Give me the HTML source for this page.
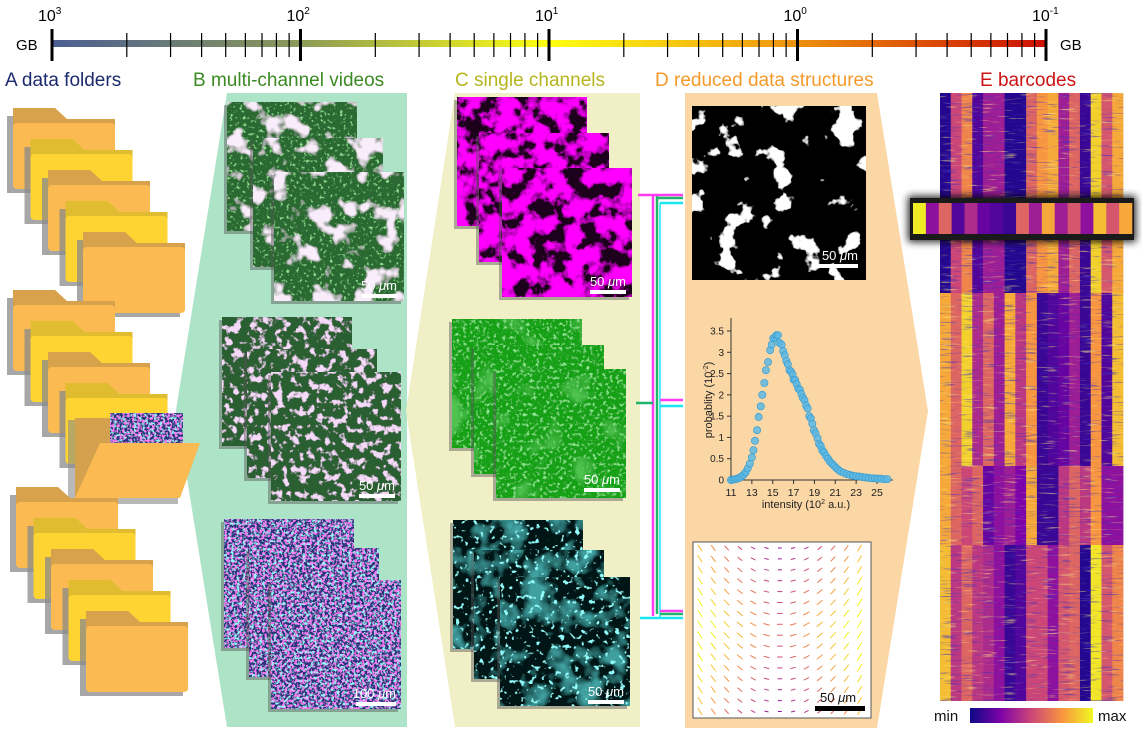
<!DOCTYPE html>
<html><head><meta charset="utf-8">
<style>
html,body{margin:0;padding:0;background:#fff;}
svg{display:block;font-family:"Liberation Sans",sans-serif;}
</style></head>
<body>
<svg id="fig" width="1142" height="734" viewBox="0 0 1142 734" xmlns="http://www.w3.org/2000/svg">
<defs id="defs">
<linearGradient id="gbScale" x1="0" x2="1" y1="0" y2="0">
<stop offset="0" stop-color="#4a5e94"/><stop offset="0.25" stop-color="#8c9a58"/><stop offset="0.5" stop-color="#ffff10"/><stop offset="0.72" stop-color="#f0a010"/><stop offset="1" stop-color="#cc1000"/>
</linearGradient>
<linearGradient id="plasmaGrad" x1="0" x2="1" y1="0" y2="0">
<stop offset="0" stop-color="#0d0887"/><stop offset="0.25" stop-color="#7e03a8"/><stop offset="0.5" stop-color="#cc4778"/><stop offset="0.75" stop-color="#f89540"/><stop offset="1" stop-color="#f0f921"/>
</linearGradient>
<filter id="barShadow" x="-10%" y="-60%" width="120%" height="220%"><feGaussianBlur stdDeviation="4"/></filter>
</defs>

<polygon points="227,93 407,93 407,727 227,727 176,410" fill="#ade3c6"/>
<polygon points="455,93 640,93 640,727 455,727 406,411" fill="#f0efc6"/>
<polygon points="685,93 877,93 928,411 877,728 685,728" fill="#fbd7a6"/>

<g id="scale"></g>
<g id="titles">
<text x="5" y="86" font-size="19" fill="#1c2a6e">A  data folders</text>
<text x="193" y="86" font-size="19" fill="#3b8a24">B  multi-channel videos</text>
<text x="455" y="86" font-size="19" fill="#b5b51e">C  single channels</text>
<text x="655" y="86" font-size="19" fill="#f59a2a">D  reduced data structures</text>
<text x="980" y="86" font-size="19" fill="#cc1414">E  barcodes</text>
</g>
<g id="folders"></g>
<g id="images"></g>
<g id="brackets"></g>
<g id="hist"></g>
<g id="vfield"></g>
<g id="heat"></g>
<g>
<text x="934" y="721" font-size="15" fill="#111">min</text>
<rect x="970" y="708" width="123" height="15" fill="url(#plasmaGrad)"/>
<text x="1098" y="721" font-size="15" fill="#111">max</text>
</g>
</svg>
<script>
// ---------- data ----------
const histX = [11.0,11.2,11.4,11.6,11.8,12.0,12.2,12.4,12.6,12.8,13.0,13.15,13.3,13.5,13.65,13.85,14.0,14.2,14.35,14.55,14.75,14.9,15.05,15.25,15.35,15.5,15.65,15.85,16.0,16.15,16.3,16.45,16.6,16.75,16.9,17.0,17.15,17.3,17.45,17.6,17.75,17.9,18.05,18.2,18.35,18.5,18.65,18.8,18.95,19.1,19.3,19.45,19.6,19.75,19.9,20.1,20.3,20.5,20.7,20.9,21.1,21.3,21.5,21.8,22.1,22.4,22.7,23.0,23.3,23.6,23.9,24.2,24.5,24.8,25.1,25.4,25.7,26.0];
const histY = [0.00,0.01,0.02,0.03,0.05,0.08,0.12,0.18,0.27,0.38,0.53,0.70,0.92,1.17,1.48,1.73,2.00,2.28,2.58,2.77,3.05,3.18,3.33,3.33,3.40,3.40,3.22,3.18,3.03,2.93,2.80,2.72,2.58,2.55,2.48,2.36,2.35,2.25,2.15,2.12,2.02,1.93,1.87,1.75,1.68,1.50,1.45,1.32,1.17,1.10,0.98,0.85,0.80,0.70,0.65,0.57,0.50,0.43,0.38,0.33,0.28,0.24,0.20,0.17,0.14,0.12,0.10,0.09,0.08,0.07,0.06,0.05,0.04,0.04,0.03,0.03,0.02,0.02];
const histYTicks = [0,0.5,1,1.5,2,2.5,3,3.5];
const histYTickLabels = ["0","0.5","1","1.5","2","2.5","3","3.5"];
const histXTicks = [11,13,15,17,19,21,23,25];

const barcodeBlock1 = [0.05,0.5,0.7,0.15,0.35,0.35,0.05,0.05,0.6,0.75,0.8,0.35,0.6,0.1,0.9,0.55,0.8];
const barcodeBlock2 = [0.8,0.6,0.9,0.4,0.6,0.35,0.8,0.45,0.75,0.1,0.15,0.2,0.35,0.1,0.75,0.15,0.85];
const barcodeBlock3 = [0.8,0.6,0.5,0.6,0.2,0.3,0.35,0.25,0.8,0.1,0.1,0.45,0.6,0.45,0.75,0.3,0.3];
const barcodeBlock4 = [0.85,0.45,0.6,0.45,0.4,0.3,0.1,0.15,0.5,0.5,0.3,0.55,0.6,0.05,0.95,0.55,0.7];
const barcodeHighlight = [0.97,0.3,0.6,0.15,0.4,0.2,0.15,0.1,0.6,0.35,0.8,0.35,0.55,0.3,0.85,0.55,0.8];

const scaleDecadeLabels = ["3","2","1","0","-1"];

// ---------- helpers ----------
const NS = "http://www.w3.org/2000/svg";
function mk(tag, attrs, parent){ const e=document.createElementNS(NS,tag); for(const k in attrs) e.setAttribute(k,attrs[k]); if(parent) parent.appendChild(e); return e; }
const plasmaStops=[[13,8,135],[126,3,168],[204,71,120],[248,149,64],[240,249,33]];
function plasma(t){ t=Math.max(0,Math.min(1,t)); const s=t*4; const i=Math.min(3,Math.floor(s)); const f=s-i; const a=plasmaStops[i], b=plasmaStops[i+1]; return `rgb(${Math.round(a[0]+(b[0]-a[0])*f)},${Math.round(a[1]+(b[1]-a[1])*f)},${Math.round(a[2]+(b[2]-a[2])*f)})`; }
const defs=document.getElementById('defs');

// ---------- top size scale ----------
const sc=document.getElementById('scale');
const x0=52, D=248.5;
let r=mk('rect',{x:x0,y:40,width:4*D,height:7,fill:'url(#gbScale)'},sc);
 
scaleDecadeLabels.forEach((lab,i)=>{
  const x=x0+i*D;
  const t=mk('line',{x1:x,x2:x,y1:29,y2:61,stroke:'#000','stroke-width':3},sc);
   
  const tx=mk('text',{x:x-14,y:21,'font-size':16,fill:'#000'},sc);
   
  tx.innerHTML='10<tspan font-size="10" dy="-7">'+lab+'</tspan>';
  if(i<4){ for(let k=2;k<=9;k++){ const xm=x+Math.log10(k)*D;
    const m=mk('line',{x1:xm,x2:xm,y1:33,y2:57,stroke:'#000','stroke-width':1.2},sc);
      } }
});
let g1=mk('text',{x:16,y:50,'font-size':15,fill:'#000'},sc); g1.textContent='GB';
 
let g2=mk('text',{x:1060,y:50,'font-size':15,fill:'#000'},sc); g2.textContent='GB';
 

// ---------- folders ----------
const fg=document.getElementById('folders');
function folder(x,y,col,dark){
  const g=mk('g',{},fg);
   
  mk('path',{d:`M${x-6} ${y-3} h47 l10 11 h46 v66 h-103 z`,fill:'#8a8a8a',opacity:0.75},g);
  mk('path',{d:`M${x} ${y-11} h42 l12 11 h48 v66 q0 3 -3 3 h-96 q-3 0 -3 -3 z`,fill:dark},g);
  mk('rect',{x:x,y:y+4,width:102,height:66,rx:4,fill:col},g);
}
const orange='#fbbb52', yellow='#fdd431', dOr='#d8a24c', dYe='#e0bc30';
[[13,119],[13,301],[16,498]].forEach((p,gi)=>{
  for(let i=0;i<5;i++){
    const x=p[0]+i*17.5, y=p[1]+i*31;
    const c=i%2?yellow:orange, d=i%2?dYe:dOr;
    if(gi===1&&i===4){
      const g=mk('g',{},fg);
       
      mk('rect',{x:68,y:420,width:110,height:84,fill:'#8a8a8a',opacity:0.6},g);
      mk('path',{d:'M75 418 h35 v80 h-35 z',fill:'#d4a24e'},g);
      mk('rect',{x:110,y:413,width:73,height:31,fill:'#2a3a8a',filter:'url(#fMulti0)'},g);
      mk('path',{d:'M100 443 h100 l-20 55 h-105 z',fill:orange},g);
    } else folder(x,y,c,d);
  }
});

// ---------- texture filters ----------
function texFilter(id,bg,layers){
  const f=mk('filter',{id:id,x:0,y:0,width:1,height:1},defs);
  mk('feFlood',{'flood-color':bg,result:'bg'},f);
  const names=['bg'];
  layers.forEach((L,i)=>{
    mk('feTurbulence',{type:'fractalNoise',baseFrequency:L.f,numOctaves:L.o||3,seed:L.s,result:'t'+i},f);
    mk('feColorMatrix',{in:'t'+i,type:'matrix',values:`0 0 0 0 ${L.c[0]} 0 0 0 0 ${L.c[1]} 0 0 0 0 ${L.c[2]} ${L.a} 0 0 0 ${L.b}`,result:'c'+i},f);
    names.push('c'+i);
  });
  const m=mk('feMerge',{},f); names.forEach(n=>mk('feMergeNode',{in:n},m));
}
for(let s=0;s<4;s++){
  texFilter('fGP'+s,'#2b6a33',[{f:0.3,s:s+11,o:2,c:[0.3,0.8,0.3],a:5,b:-3},{f:0.045,s:s+1,c:[0.95,0.84,0.96],a:8,b:-4.4}]);
  texFilter('fGN'+s,'#2a5e30',[{f:0.12,s:s+21,c:[0.92,0.7,0.95],a:8,b:-4.3}]);
  texFilter('fMulti'+s,'#26307a',[{f:0.35,s:s+31,o:2,c:[0.3,0.95,0.95],a:6,b:-3.0},{f:0.4,s:s+41,o:2,c:[0.95,0.2,0.9],a:8,b:-4.0}]);
  texFilter('fMag'+s,'#1a001a',[{f:0.06,s:s+51,o:4,c:[1,0,1],a:6,b:-2.45}]);
  texFilter('fGrn'+s,'#19a019',[{f:0.3,s:s+61,o:2,c:[0.3,0.85,0.3],a:4,b:-2.2},{f:0.03,s:s+71,c:[0.08,0.55,0.08],a:4,b:-2.3}]);
  texFilter('fCy'+s,'#031212',[{f:0.04,s:s+81,c:[0.05,0.35,0.35],a:4,b:-1.9},{f:0.2,s:s+91,o:2,c:[0.3,1,1],a:10,b:-6.3}]);
}
texFilter('fBW','#000',[{f:0.035,s:7,o:4,c:[1,1,1],a:20,b:-12.2}]);

// ---------- images ----------
const ig=document.getElementById('images');
function img(x,y,fid,name){
  const g=mk('g',{},ig);
   
  mk('rect',{x:x-3,y:y+3,width:130,height:129,fill:'#555',opacity:0.45},g);
  mk('rect',{x:x,y:y,width:130,height:129,fill:'#000',filter:`url(#${fid})`},g);
  return g;
}
function scalebar(x,y,label,w){
  const t=mk('text',{x:x,y:y,'font-size':13,fill:'#fff','text-anchor':'end'},ig);
   
  t.innerHTML=label.split(' ')[0]+' <tspan font-style="italic">μ</tspan>m';
  const b=mk('rect',{x:x-w,y:y+4,width:w,height:4,fill:'#fff'},ig);
   
}
[[227,102],[253,138],[274,172]].forEach((p,i)=>img(p[0],p[1],'fGP'+i,'multichannel-frame'));
scalebar(397,290,'50 μm',36);
[[222,317],[247,349],[271,372]].forEach((p,i)=>img(p[0],p[1],'fGN'+i,'multichannel-frame'));
scalebar(395,490,'50 μm',36);
[[224,519],[249,548],[271,580]].forEach((p,i)=>img(p[0],p[1],'fMulti'+(i+1),'multichannel-frame'));
scalebar(396,698,'100 μm',40);
[[457,97],[479,133],[502,168]].forEach((p,i)=>img(p[0],p[1],'fMag'+i,'magenta-channel-frame'));
scalebar(626,286,'50 μm',36);
[[452,319],[474,345],[496,369]].forEach((p,i)=>img(p[0],p[1],'fGrn'+i,'green-channel-frame'));
scalebar(620,484,'50 μm',36);
[[453,520],[474,550],[500,577]].forEach((p,i)=>img(p[0],p[1],'fCy'+i,'cyan-channel-frame'));
scalebar(624,696,'50 μm',36);
let bw=mk('rect',{x:692,y:106,width:174,height:174,fill:'#000',filter:'url(#fBW)'},ig);
 
scalebar(858,260,'50 μm',46);

// ---------- brackets ----------
const bg=document.getElementById('brackets');
function ln(x1,y1,x2,y2,c,w){ const l=mk('line',{x1,y1,x2,y2,stroke:c,'stroke-width':w||2.5},bg);
    }
const MG='#ff3cf0', GR='#1fb56a', CY='#19e6f0';
ln(653,195,653,616,MG); ln(657,196,657,614,GR); ln(660,203,660,618,CY,1.5);
ln(638,195,683,195,MG); ln(657,198,683,198,GR); ln(660,203,683,203,CY);
ln(636,403,653,403,GR); ln(660,400,683,400,MG); ln(660,406,683,406,CY);
ln(660,611,683,611,MG); ln(660,614,683,614,GR); ln(640,618,683,618,CY);

// ---------- histogram ----------
const hg=document.getElementById('hist');
const hx=v=>731+(v-11)*(877-731)/14;
const hy=p=>480-p*(480-331)/3.5;
let ax=mk('path',{d:`M731 318 V480 H893`,fill:'none',stroke:'#333','stroke-width':1},hg);
 
histYTicks.forEach((v,i)=>{
  mk('line',{x1:727,x2:731,y1:hy(v),y2:hy(v),stroke:'#333'},hg);
  const t=mk('text',{x:724,y:hy(v)+3.5,'font-size':10,'text-anchor':'end',fill:'#222'},hg);
   
  t.textContent=histYTickLabels[i];
});
histXTicks.forEach(v=>{
  mk('line',{x1:hx(v),x2:hx(v),y1:480,y2:484,stroke:'#333'},hg);
  const t=mk('text',{x:hx(v),y:496,'font-size':10.5,'text-anchor':'middle',fill:'#222'},hg);
   
  t.textContent=v;
});
let xt=mk('text',{x:806,y:508,'font-size':11,'text-anchor':'middle',fill:'#222'},hg);
 
xt.innerHTML='intensity (10<tspan font-size="7" dy="-4">2</tspan><tspan dy="4"> a.u.)</tspan>';
let yt=mk('text',{x:0,y:0,'font-size':11,'text-anchor':'middle',fill:'#222',transform:'translate(712,400) rotate(-90)'},hg);
 
yt.innerHTML='probablity (10<tspan font-size="7" dy="-4">-2</tspan><tspan dy="4">)</tspan>';
histX.forEach((v,i)=>{
  const c=mk('circle',{cx:hx(v),cy:hy(histY[i]),r:3.6,fill:'#5cb8e4',stroke:'#3a9dd0','stroke-width':0.7,'fill-opacity':0.85},hg);
   
});

// ---------- vector field ----------
const vg=document.getElementById('vfield');
let vb=mk('rect',{x:693,y:542,width:178,height:176,fill:'#fff',stroke:'#555','stroke-width':1},vg);
 
const cols=13, rows=16;
for(let i=0;i<cols;i++) for(let j=0;j<rows;j++){
  const x=700+i*13.3, y=548+j*10.9;
  const u=(i-(cols-1)/2)/((cols-1)/2), v=(j-(rows-1)/2)/((rows-1)/2);
  let mag=0.2+0.6*Math.abs(u)+0.3*(1-Math.abs(v));
  mag=Math.min(1,mag*(1-0.4*Math.abs(v)*Math.abs(v)*(1-Math.abs(u))));
  const ang=-Math.atan(1.6*u);
  const L=3+6*mag;
  const dx=Math.cos(ang)*L/2, dy=Math.sin(ang)*L/2;
  const a=mk('line',{x1:x-dx,y1:y-dy,x2:x+dx,y2:y+dy,stroke:plasma(0.2+0.8*mag),'stroke-width':1},vg);
   
}
let sb=mk('rect',{x:815,y:706,width:50,height:5,fill:'#000'},vg);
 
let st=mk('text',{x:820,y:702,'font-size':13,fill:'#111'},vg);
 
st.innerHTML='50 <tspan font-style="italic">μ</tspan>m';

// ---------- barcode heatmap ----------
const hm=document.getElementById('heat');
const hx0=940, hw=183, cw=hw/17;
const blocks=[barcodeBlock1,barcodeBlock2,barcodeBlock3,barcodeBlock4];
const bounds=[93,293,466,545,701];
blocks.forEach((blk,b)=>{
  blk.forEach((v,c)=>{
    const rr=mk('rect',{x:hx0+c*cw,y:bounds[b],width:cw+0.4,height:bounds[b+1]-bounds[b],fill:plasma(v)},hm);
     
  });
});
const sf=mk('filter',{id:'stripes',x:0,y:0,width:1,height:1},defs);
mk('feTurbulence',{type:'fractalNoise',baseFrequency:'0.05 0.55',numOctaves:2,seed:5,result:'t'},sf);
mk('feColorMatrix',{in:'t',type:'matrix',values:'0 0 0 0 0.05 0 0 0 0 0.03 0 0 0 0 0.5 5 0 0 0 -2.9',result:'d'},sf);
mk('feTurbulence',{type:'fractalNoise',baseFrequency:'0.05 0.55',numOctaves:2,seed:9,result:'t2'},sf);
mk('feColorMatrix',{in:'t2',type:'matrix',values:'0 0 0 0 1 0 0 0 0 0.85 0 0 0 0 0.2 5 0 0 0 -3.1',result:'l'},sf);
const sm=mk('feMerge',{},sf); mk('feMergeNode',{in:'d'},sm); mk('feMergeNode',{in:'l'},sm);
let ov=mk('rect',{x:hx0,y:93,width:hw,height:608,fill:'#000',filter:'url(#stripes)',opacity:0.55},hm);
 
mk('rect',{x:908,y:196,width:228,height:46,fill:'#000',opacity:0.85,filter:'url(#barShadow)'},hm);
mk('rect',{x:910,y:198,width:224,height:42,fill:'#1a1a1a'},hm);
const bw2=(1132-913)/17;
barcodeHighlight.forEach((v,c)=>{
  const rr=mk('rect',{x:913+c*bw2,y:203,width:bw2+0.3,height:31,fill:plasma(v)},hm);
   
});
</script>
</body></html>
